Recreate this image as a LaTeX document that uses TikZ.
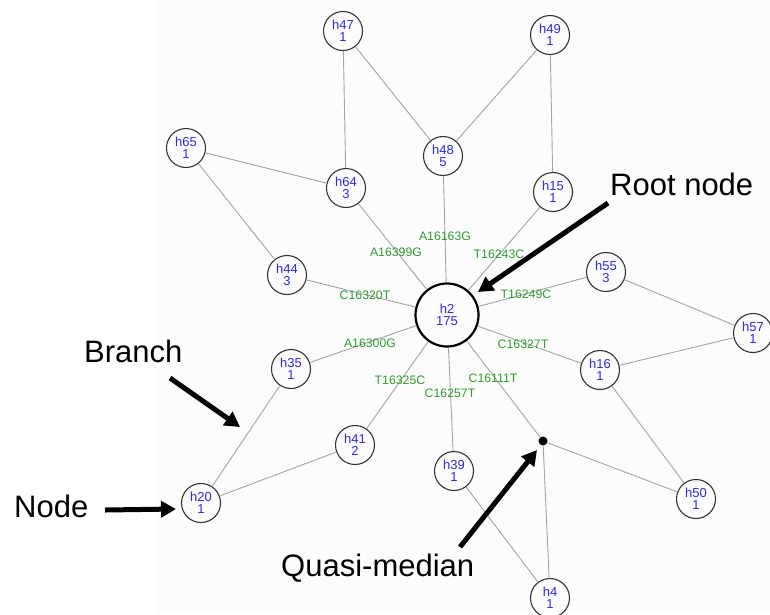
\documentclass[tikz,border=0pt]{standalone}
\usepackage{fontspec}
\setmainfont{Liberation Sans}
\usetikzlibrary{arrows.meta}
\definecolor{edgegray}{HTML}{A4A4A4}
\definecolor{nodeblue}{HTML}{2B2BF2}
\definecolor{labgreen}{HTML}{2E9E2E}
\definecolor{bggray}{HTML}{FCFCFC}
\definecolor{ringgray}{HTML}{333333}
\begin{document}
\begin{tikzpicture}[x=1pt,y=-1pt,
  hap/.style={circle,draw=ringgray,line width=1.1pt,minimum size=39pt,inner sep=0pt,
    align=center,text=nodeblue,font=\fontsize{13}{12.5}\selectfont},
  rootnode/.style={hap,minimum size=63pt,line width=2.2pt,draw=black},
  mut/.style={text=labgreen,font=\fontsize{12.3}{12}\selectfont,inner sep=0pt},
  link/.style={draw=edgegray,line width=0.9pt},
  annot/.style={font=\fontsize{31}{36}\selectfont,inner sep=0pt,anchor=base west},
  pointer/.style={line width=5pt,-{Triangle[length=15pt,width=16pt]}},
  qdot/.style={circle,fill=black,minimum size=9pt,inner sep=0pt},
]
\useasboundingbox (0,0) rectangle (770,614);
\clip (0,0) rectangle (770,614);
\fill[white] (0,0) rectangle (770,614);
\fill[bggray] (156,0) rectangle (770,614);

% haplotype nodes
\node[hap] (h47) at (343,31) {h47\\1};
\node[hap] (h49) at (550,35) {h49\\1};
\node[hap] (h65) at (186,148) {h65\\1};
\node[hap] (h48) at (443,156) {h48\\5};
\node[hap] (h64) at (346,188) {h64\\3};
\node[hap] (h15) at (553,192) {h15\\1};
\node[hap] (h44) at (287,275) {h44\\3};
\node[hap] (h55) at (606,272) {h55\\3};
\node[rootnode] (h2) at (447,315) {h2\\175};
\node[hap] (h57) at (753,333) {h57\\1};
\node[hap] (h35) at (291,369) {h35\\1};
\node[hap] (h16) at (600,370) {h16\\1};
\node[hap] (h41) at (355,445) {h41\\2};
\node[hap] (h39) at (454,471) {h39\\1};
\node[qdot] (q) at (543,441) {};
\node[hap] (h50) at (696,499) {h50\\1};
\node[hap] (h20) at (201,503) {h20\\1};
\node[hap] (h4) at (550,598) {h4\\1};

% branches
\draw[link] (h47) -- (h64);
\draw[link] (h47) -- (h48);
\draw[link] (h49) -- (h48);
\draw[link] (h49) -- (h15);
\draw[link] (h65) -- (h64);
\draw[link] (h65) -- (h44);
\draw[link] (h48) -- (h2);
\draw[link] (h64) -- (h2);
\draw[link] (h15) -- (h2);
\draw[link] (h44) -- (h2);
\draw[link] (h55) -- (h2);
\draw[link] (h35) -- (h2);
\draw[link] (h16) -- (h2);
\draw[link] (h41) -- (h2);
\draw[link] (h39) -- (h2);
\draw[link] (q) -- (h2);
\draw[link] (h55) -- (h57);
\draw[link] (h57) -- (h16);
\draw[link] (h16) -- (h50);
\draw[link] (h35) -- (h20);
\draw[link] (h41) -- (h20);
\draw[link] (q) -- (h50);
\draw[link] (q) -- (h4);
\draw[link] (h39) -- (h4);

% mutation labels
\node[mut] (mA16163G) at (445,236) {A16163G};
\node[mut] (mA16399G) at (396,252) {A16399G};
\node[mut] (mT16243C) at (499,254) {T16243C};
\node[mut] (mC16320T) at (365,295) {C16320T};
\node[mut] (mT16249C) at (526,294) {T16249C};
\node[mut] (mA16300G) at (370,343) {A16300G};
\node[mut] (mC16327T) at (523,344) {C16327T};
\node[mut] (mT16325C) at (400,380) {T16325C};
\node[mut] (mC16111T) at (493,378) {C16111T};
\node[mut] (mC16257T) at (450,393) {C16257T};

% annotations
\node[annot] (troot) at (610,195) {Root node};
\node[annot] (tbranch) at (84,362) {Branch};
\node[annot] (tnode) at (14,517) {Node};
\node[annot] (tquasi) at (281,576) {Quasi-median};

\coordinate (rootA) at (608,203);
\coordinate (rootB) at (478,292);
\coordinate (brA) at (170,378);
\coordinate (brB) at (240,427);
\coordinate (ndA) at (105,510);
\coordinate (ndB) at (176,509);
\coordinate (qmA) at (460,547);
\coordinate (qmB) at (537,450);
\draw[pointer] (rootA) -- (rootB);
\draw[pointer] (brA) -- (brB);
\draw[pointer] (ndA) -- (ndB);
\draw[pointer] (qmA) -- (qmB);
\end{tikzpicture}
\end{document}
